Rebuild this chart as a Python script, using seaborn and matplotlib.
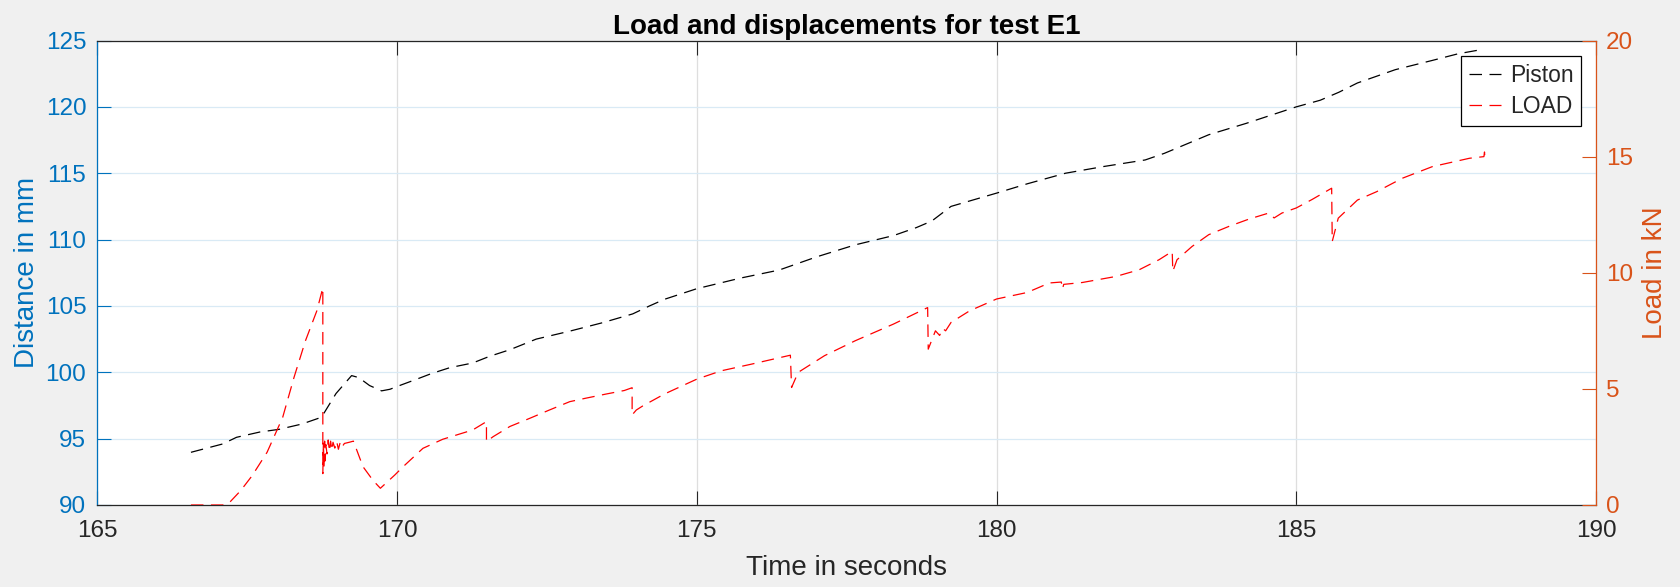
import matplotlib
matplotlib.use("Agg")
import matplotlib.pyplot as plt
import seaborn as sns

# Piston displacement (mm) against time (s)
piston_t = [166.56, 167.09, 167.32, 167.71, 168.03, 168.41, 168.73, 168.79, 168.98,
            169.24, 169.36, 169.54, 169.74, 169.88, 170.04, 170.32, 170.57, 170.88,
            171.26, 171.54, 171.88, 172.32, 172.88, 173.43, 173.93, 174.21, 174.46,
            175.00, 175.73, 176.37, 177.00, 177.64, 178.28, 178.66, 178.92, 179.24,
            180.00, 180.51, 181.15, 181.78, 182.48, 182.80, 183.17, 183.54, 184.16,
            185.00, 185.40, 185.71, 186.02, 186.65, 187.27, 187.70, 188.07]
piston_mm = [93.97, 94.60, 95.10, 95.50, 95.70, 96.10, 96.60, 97.00, 98.40,
             99.75, 99.60, 99.00, 98.60, 98.72, 99.00, 99.47, 99.90, 100.35,
             100.70, 101.20, 101.70, 102.50, 103.10, 103.74, 104.40, 105.00, 105.50,
             106.30, 107.10, 107.70, 108.70, 109.60, 110.30, 110.90, 111.40, 112.50,
             113.50, 114.20, 115.00, 115.50, 116.00, 116.50, 117.20, 117.90, 118.75,
             120.00, 120.50, 121.10, 121.80, 122.80, 123.50, 124.00, 124.30]

# Load cell reading (kN) against time (s)
load_t = [166.56, 167.09, 167.20, 167.39, 167.58, 167.83, 168.09, 168.28, 168.47, 168.66,
          168.76, 168.76, 168.77, 168.78, 168.79, 168.80, 168.81, 168.83, 168.85, 168.87,
          168.89, 168.91, 168.93, 168.96, 168.99, 169.02, 169.05, 169.08, 169.12, 169.20,
          169.27, 169.43, 169.60, 169.72, 169.96, 170.10, 170.43,
          170.76, 171.26, 171.49, 171.49, 171.60, 171.88, 172.21, 172.54, 172.88, 173.15,
          173.49, 173.79, 173.92, 173.92, 173.99, 174.10, 174.46, 175.00, 175.41, 175.92,
          176.56, 176.58, 176.69, 177.13, 177.64, 178.28, 178.85, 178.86, 178.98, 179.05,
          179.10, 179.15, 179.24, 179.55, 180.00, 180.51, 180.88, 181.08, 181.10, 181.12,
          181.43, 181.99, 182.38, 182.71, 182.93, 182.94, 183.01, 183.26, 183.54, 183.88,
          184.21, 184.54, 184.63, 184.76, 185.00, 185.26, 185.59, 185.60, 185.70, 186.02,
          186.34, 186.77, 187.27, 187.89, 188.13, 188.14, 188.15]
load_kn = [0.00, 0.00, 0.10, 0.62, 1.26, 2.27, 3.77, 5.50, 7.07, 8.36,
           9.35, 1.35, 2.70, 1.60, 2.75, 1.90, 2.60, 2.20, 2.80, 2.30,
           2.75, 2.35, 2.70, 2.45, 2.75, 2.40, 2.70, 2.50, 2.65, 2.70,
           2.75, 1.65, 1.05, 0.72, 1.29, 1.65, 2.44,
           2.83, 3.23, 3.59, 2.73, 2.94, 3.38, 3.73, 4.09, 4.45, 4.60,
           4.78, 4.93, 5.05, 3.88, 4.09, 4.27, 4.78, 5.42, 5.78, 6.07,
           6.45, 5.06, 5.71, 6.43, 7.07, 7.79, 8.50, 6.71, 7.50, 7.30,
           7.60, 7.50, 7.86, 8.36, 8.87, 9.15, 9.56, 9.60, 9.30, 9.50,
           9.58, 9.84, 10.13, 10.56, 10.92, 10.06, 10.56, 11.13, 11.64, 12.00,
           12.31, 12.57, 12.36, 12.57, 12.79, 13.15, 13.64, 11.35, 12.35, 13.13,
           13.49, 14.07, 14.57, 14.93, 15.00, 15.20, 14.80]

x_ticks = [165, 170, 175, 180, 185, 190]
mm_ticks = [90, 95, 100, 105, 110, 115, 120, 125]
kn_ticks = [0, 5, 10, 15, 20]

BLUE = "#0072BD"
ORANGE = "#D95319"
DARK = "#262626"

sns.set_style("white")
plt.rcParams["font.family"] = ["Liberation Sans", "DejaVu Sans"]

fig = plt.figure(figsize=(16.8, 5.87), dpi=100, facecolor="#F0F0F0")
ax1 = fig.add_axes([0.058, 0.1397, 0.892, 0.7913])
ax1.set_facecolor("white")
ax2 = ax1.twinx()

dash = (0, (10, 6))
sns.lineplot(x=piston_t, y=piston_mm, ax=ax1, estimator=None, sort=False,
             color="black", linewidth=0.9, linestyle=dash, label="Piston", legend=False)
sns.lineplot(x=load_t, y=load_kn, ax=ax2, estimator=None, sort=False,
             color="#FF0000", linewidth=0.9, linestyle=dash, label="LOAD", legend=False)

ax1.set_xlim(165, 190)
ax1.set_ylim(90, 125)
ax2.set_ylim(0, 20)
ax1.set_xticks(x_ticks)
ax1.set_yticks(mm_ticks)
ax2.set_yticks(kn_ticks)

# grid: vertical lines grey, horizontal lines tinted with the left axis colour
ax1.grid(True, axis="x", color="#DEDEDE", linewidth=0.9)
ax1.grid(True, axis="y", color="#D9EAF5", linewidth=0.9)
ax1.set_axisbelow(True)
ax2.grid(False)

for sp in ("top", "bottom"):
    ax1.spines[sp].set_color(DARK)
    ax1.spines[sp].set_linewidth(0.9)
ax1.spines["left"].set_color(BLUE)
ax1.spines["left"].set_linewidth(0.9)
ax1.spines["right"].set_visible(False)
for sp in ("top", "bottom", "left"):
    ax2.spines[sp].set_visible(False)
ax2.spines["right"].set_color(ORANGE)
ax2.spines["right"].set_linewidth(0.9)

ax1.tick_params(axis="x", which="both", direction="in", length=10, width=0.8,
                color=DARK, labelcolor=DARK, labelsize=17.5, pad=11, top=True, bottom=True)
ax1.tick_params(axis="y", direction="in", length=10, width=0.8, color=BLUE,
                labelcolor=BLUE, labelsize=17.5, pad=8, left=True, right=False)
ax2.tick_params(axis="y", direction="in", length=10, width=0.8, color=ORANGE,
                labelcolor=ORANGE, labelsize=17.5, pad=7, right=True, left=False)

ax1.set_xlabel("Time in seconds", fontsize=20, color=DARK, labelpad=9)
ax1.set_ylabel("Distance in mm", fontsize=20, color=BLUE)
ax2.set_ylabel("Load in kN", fontsize=20, color=ORANGE)
ax1.yaxis.set_label_coords(-0.038, 0.5)
ax2.yaxis.set_label_coords(1.031, 0.5)

ax1.set_title("Load and displacements for test E1", fontsize=20, fontweight="bold",
              color="black", pad=5)

handles = ax1.get_lines()[:1] + ax2.get_lines()[:1]
leg = ax2.legend(handles, ["Piston", "LOAD"], loc="upper right",
                 bbox_to_anchor=(0.990, 0.9666), borderaxespad=0, fontsize=16.5,
                 frameon=True, fancybox=False, framealpha=1, edgecolor="black",
                 handlelength=1.4, handletextpad=0.4, labelspacing=0.37, borderpad=0.33)
leg.get_frame().set_linewidth(0.9)
for txt in leg.get_texts():
    txt.set_color(DARK)

fig.savefig("out.png", dpi=100, facecolor=fig.get_facecolor())
